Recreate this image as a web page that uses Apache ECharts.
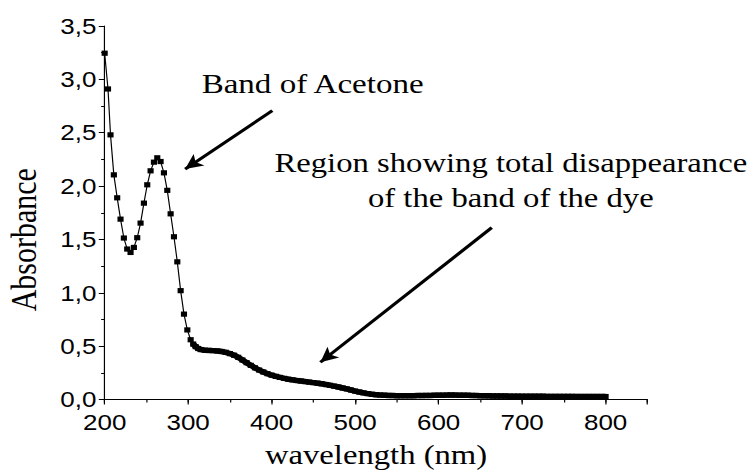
<!DOCTYPE html>
<html><head><meta charset="utf-8">
<script src="https://cdn.jsdelivr.net/npm/echarts@6/dist/echarts.min.js"></script>
<style>
html,body{margin:0;padding:0;background:#fff;overflow:hidden}
#wrap{width:756px;height:472px;overflow:hidden;background:#fff}
#chart{width:640.68px;height:472px;transform:scaleX(1.18);transform-origin:0 0}
</style>
</head><body><div id="wrap"><div id="chart"></div></div>
<script>
// wavelength (nm)
const wavelengths = [
  200,204,207,211,215,219,223,227,231,235,
  239,243,247,251,255,259,263,267,271,275,
  279,283,287,291,295,299,303,306,309,312,
  315,
  320,325,330,335,340,345,350,355,360,365,
  370,375,380,385,390,395,400,405,410,415,
  420,425,430,435,440,445,450,455,460,465,
  470,475,480,485,490,495,500,505,510,515,
  520,525,530,535,540,545,550,555,560,565,
  570,575,580,585,590,595,600,605,610,615,
  620,625,630,635,640,645,650,655,660,665,
  670,675,680,685,690,695,700,705,710,715,
  720,725,730,735,740,745,750,755,760,765,
  770,775,780,785,790,795,800
];
// absorbance
const absorbance = [
  3.245,2.91,2.48,2.105,1.89,1.69,1.513,1.41,1.378,1.425,
  1.516,1.653,1.84,2.012,2.143,2.224,2.265,2.23,2.124,1.96,
  1.74,1.525,1.29,1.02,0.80,0.652,0.56,0.52,0.495,0.478,
  0.468,
  0.462,0.46,0.458,0.455,0.45,0.442,0.43,0.415,0.395,0.37,
  0.345,0.32,0.297,0.276,0.258,0.242,0.228,0.217,0.207,0.198,
  0.19,0.184,0.178,0.173,0.168,0.163,0.158,0.153,0.147,0.14,
  0.133,0.125,0.117,0.108,0.099,0.089,0.079,0.07,0.062,0.055,
  0.049,0.045,0.042,0.04,0.038,0.037,0.036,0.036,0.036,0.036,
  0.036,0.037,0.037,0.038,0.038,0.039,0.04,0.04,0.041,0.041,
  0.041,0.04,0.04,0.039,0.038,0.037,0.036,0.035,0.034,0.033,
  0.033,0.032,0.032,0.031,0.031,0.031,0.03,0.03,0.03,0.03,
  0.03,0.03,0.029,0.029,0.029,0.029,0.029,0.029,0.029,0.028,
  0.028,0.028,0.028,0.028,0.028,0.028,0.028
];
const xTickValues = [200,300,400,500,600,700,800];
const xTickLabels = ['200','300','400','500','600','700','800'];
const yTickValues = [0,0.5,1,1.5,2,2.5,3,3.5];
const yTickLabels = ['0,0','0,5','1,0','1,5','2,0','2,5','3,0','3,5'];
// annotation arrows [from, to] in data units
const arrowAcetone = [[400.8,2.707],[296.4,2.159]];
const arrowDye = [[663.6,1.61],[458.4,0.349]];
const annotationAcetone = 'Band of Acetone';
const annotationDye = 'Region showing total disappearance\nof the band of the dye';
// index from which measured points sit so close that markers merge into a band
const denseFrom = 27;

const chart = echarts.init(document.getElementById('chart'), null, {renderer:'svg'});
const black = '#000';
const points = wavelengths.map((w,i)=>[w, absorbance[i]]);
chart.setOption({
  animation:false,
  backgroundColor:'#fff',
  grid:{left:88.7, right:92.4, top:26, bottom:72.5, outerBoundsMode:'none'},
  xAxis:[{
    type:'value', min:200, max:850, interval:100,
    axisLine:{show:true, onZero:false, lineStyle:{color:black,width:1}},
    axisTick:{show:true, inside:false, length:5, lineStyle:{color:black,width:1}},
    splitLine:{show:false},
    axisLabel:{
      margin:12, color:black, fontFamily:'Liberation Sans', fontSize:22,
      formatter:v=>{const k=xTickValues.indexOf(v);return k>=0?xTickLabels[k]:'';}
    },
    name:'wavelength (nm)', nameLocation:'middle', nameGap:41, nameMoveOverlap:false,
    nameTextStyle:{fontFamily:'Liberation Serif', fontSize:27.7, color:black}
  },{
    type:'value', min:200, max:850, interval:50, position:'bottom',
    axisLine:{show:false},
    axisTick:{show:true, inside:false, length:3, lineStyle:{color:black,width:1}},
    axisLabel:{show:false}, splitLine:{show:false}
  }],
  yAxis:{
    type:'value', min:0, max:3.5, interval:0.5,
    axisLine:{show:true, onZero:false, lineStyle:{color:black,width:1}},
    axisTick:{show:true, inside:false, length:5, lineStyle:{color:black,width:1}},
    minorTick:{show:true, splitNumber:2, length:3, lineStyle:{color:black,width:1}},
    splitLine:{show:false}, minorSplitLine:{show:false},
    axisLabel:{
      margin:7, color:black, fontFamily:'Liberation Sans', fontSize:22,
      formatter:v=>{const k=yTickValues.findIndex(t=>Math.abs(t-v)<1e-9);return k>=0?yTickLabels[k]:'';}
    },
    name:'Absorbance', nameLocation:'middle', nameGap:53, nameMoveOverlap:false,
    nameTextStyle:{fontFamily:'Liberation Serif', fontSize:30, color:black, padding:[0,54,0,0]}
  },
  series:[{
    type:'line', xAxisIndex:0, yAxisIndex:0, data:points,
    symbol:'rect', symbolSize:[5.2,5.2], showSymbol:true,
    itemStyle:{color:black}, lineStyle:{color:black,width:1},
    silent:true, z:3,
    markLine:{
      silent:true, symbol:['none','arrow'], symbolSize:[11,15],
      lineStyle:{color:black,width:3,type:'solid'}, label:{show:false},
      emphasis:{disabled:true},
      data:[
        [{coord:arrowAcetone[0]},{coord:arrowAcetone[1]}],
        [{coord:arrowDye[0]},{coord:arrowDye[1]}]
      ]
    }
  },{
    type:'line', xAxisIndex:0, yAxisIndex:0, data:points.slice(denseFrom),
    showSymbol:false, symbol:'none', silent:true, z:2,
    lineStyle:{color:black,width:5.5, cap:'butt', join:'round'}
  }],
  graphic:[
    {type:'text', x:170.9, y:84, silent:true,
     style:{text:annotationAcetone, fontFamily:'Liberation Serif', fontSize:28, fill:black, align:'left', verticalAlign:'middle'}},
    {type:'text', x:432.9, y:180.5, silent:true,
     style:{text:annotationDye, fontFamily:'Liberation Serif', fontSize:27.7, lineHeight:35, fill:black, align:'center', verticalAlign:'middle'}}
  ]
});
</script>
</body></html>
